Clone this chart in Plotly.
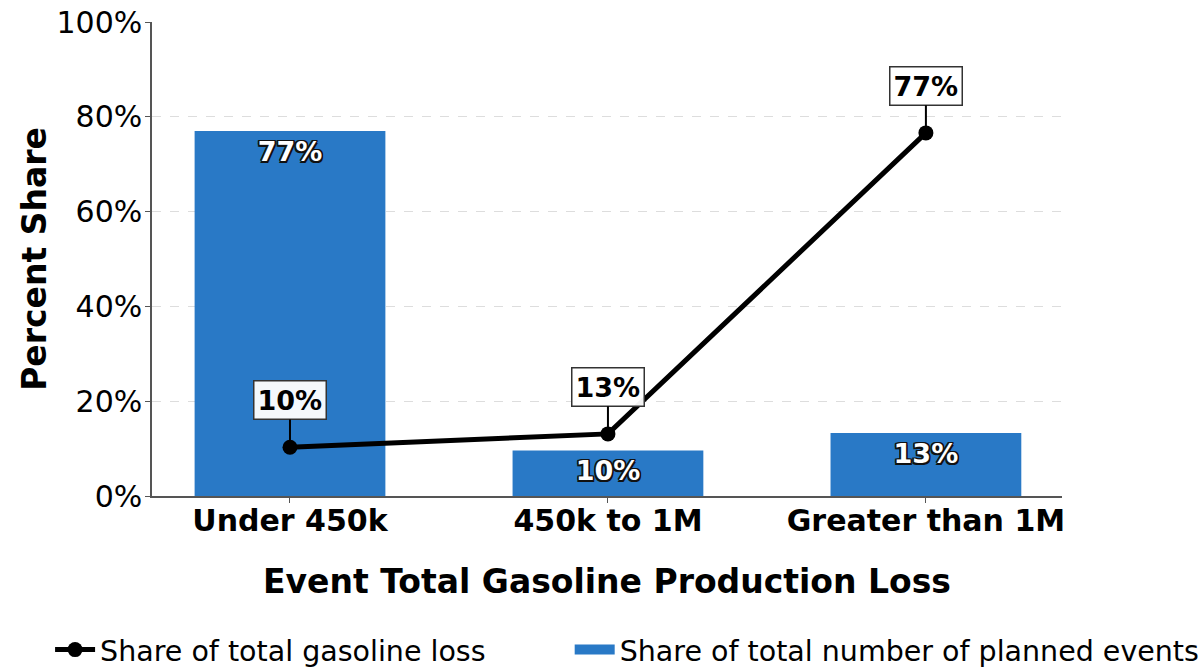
import plotly.graph_objects as go

categories = ["Under 450k", "450k to 1M", "Greater than 1M"]
events_share = [77.0, 9.6, 13.3]        # bars: share of total number of planned events
gasoline_share = [10.3, 13.1, 76.6]     # line: share of total gasoline loss
y_ticks = [0, 20, 40, 60, 80, 100]
y_tick_labels = ["0%", "20%", "40%", "60%", "80%", "100%"]

BAR_COLOR = "#2979c6"
FONT = "DejaVu Sans"
BAR_NAME = "Share of total number of planned events"
LINE_NAME = "Share of total gasoline loss"

fig = go.Figure()

fig.add_trace(go.Bar(
    x=categories, y=events_share, width=0.6,
    marker=dict(color=BAR_COLOR, line=dict(width=0)),
    name=BAR_NAME, showlegend=False, hoverinfo="skip",
))

# bar value labels (white with dark outline), placed a bit under the bar top
label_y = [max(v - 5, v / 2) for v in events_share]
outline = ", ".join(f"{dx}px {dy}px 0 #111" for dx in (-1.5, 0, 1.5) for dy in (-1.5, 0, 1.5) if dx or dy)
fig.add_trace(go.Scatter(
    x=categories, y=label_y, mode="text",
    text=[f"<b>{round(v)}%</b>" for v in events_share],
    textposition="middle center",
    textfont=dict(family=FONT, size=27, color="white", shadow=outline),
    showlegend=False, hoverinfo="skip",
))

fig.add_trace(go.Scatter(
    x=categories, y=gasoline_share, mode="lines+markers",
    line=dict(color="black", width=5),
    marker=dict(color="black", size=15),
    name=LINE_NAME, legend="legend", hoverinfo="skip",
))

# legend swatch for the bars (wide rectangle like the reference)
fig.add_trace(go.Scatter(
    x=[None], y=[None], mode="lines",
    line=dict(color=BAR_COLOR, width=20),
    name=BAR_NAME, legend="legend2", hoverinfo="skip",
))

for c, v in zip(categories, gasoline_share):
    fig.add_annotation(
        x=c, y=v, xref="x", yref="y",
        text=f"<b>{round(v)}%</b>",
        showarrow=True, arrowhead=0, arrowwidth=2, arrowcolor="black",
        ax=0, ay=-47, standoff=0,
        font=dict(family=FONT, size=27, color="black"),
        bgcolor="rgba(255,255,255,0.95)", bordercolor="#333", borderwidth=1.5, borderpad=3,
    )

legend_common = dict(
    orientation="h", xanchor="left", y=-0.325, yanchor="middle",
    font=dict(family=FONT, size=28.5, color="black"),
    itemwidth=40, bgcolor="rgba(0,0,0,0)",
)

fig.update_layout(
    width=1201, height=667,
    margin=dict(l=152, r=139, t=22, b=171, autoexpand=False),
    paper_bgcolor="white", plot_bgcolor="white",
    font=dict(family=FONT, color="black"),
    showlegend=True,
    legend=dict(x=-0.112, **legend_common),
    legend2=dict(x=0.459, **legend_common),
    xaxis=dict(
        range=[-0.434, 2.428], showline=True, linecolor="#555", linewidth=1.5,
        ticks="outside", ticklen=5, tickcolor="#555", showgrid=False, zeroline=False,
        ticklabelstandoff=-8,
        tickfont=dict(family=FONT, size=30, color="black", weight="bold"),
        title=dict(text="<b>Event Total Gasoline Production Loss</b>",
                   font=dict(family=FONT, size=33, color="black"), standoff=33),
    ),
    yaxis=dict(
        range=[0, 100], tickvals=y_ticks, ticktext=y_tick_labels,
        showline=True, linecolor="#555", linewidth=1.5,
        ticks="outside", ticklen=5, tickcolor="#555",
        ticklabelstandoff=-3,
        showgrid=True, gridcolor="#dddddd", griddash="dash", gridwidth=1, zeroline=False,
        tickfont=dict(family=FONT, size=30, color="black"),
        title=dict(text="<b>Percent Share</b>",
                   font=dict(family=FONT, size=33, color="black"), standoff=0),
    ),
)

fig.write_html(
    "out.html",
    config={"displayModeBar": False},
    post_script="document.body.style.margin='0';document.body.style.padding='0';",
)
